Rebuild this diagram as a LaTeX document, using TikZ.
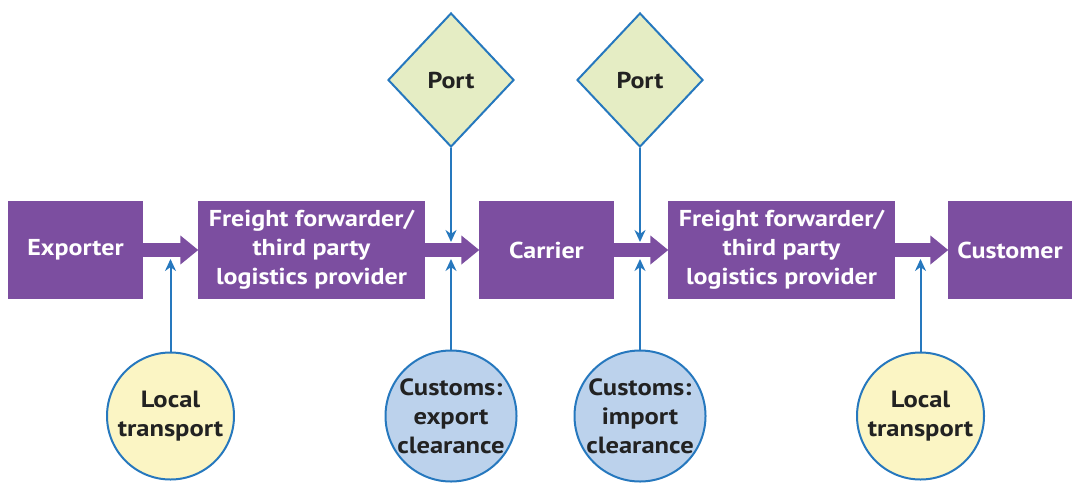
\documentclass[tikz,border=0pt]{standalone}
\usepackage{fontspec}
\setmainfont{PT Sans}
\newfontfamily\labelfont[FakeStretch=1.13]{PT Sans}
\usetikzlibrary{arrows.meta,shapes.geometric,calc}
\definecolor{boxpurple}{RGB}{124,78,160}
\definecolor{linkblue}{RGB}{38,120,190}
\definecolor{portfill}{RGB}{229,237,196}
\definecolor{localfill}{RGB}{251,245,196}
\definecolor{customsfill}{RGB}{188,210,236}
\definecolor{darktext}{RGB}{34,34,34}
\tikzset{
  stage/.style={rectangle, fill=boxpurple, text=white, font=\labelfont\bfseries\fontsize{23}{29}\selectfont,
    align=center, inner sep=0pt, minimum height=98pt},
  flow/.style={draw=boxpurple, line width=14pt, -{Triangle[width=28pt,length=18pt]}, shorten >=-0.5pt},
  portnode/.style={diamond, draw=linkblue, line width=2pt, fill=portfill, inner sep=0pt,
    minimum width=126pt, minimum height=134pt, text=darktext, font=\labelfont\bfseries\fontsize{23}{29}\selectfont},
  service/.style={circle, draw=linkblue, line width=2pt, inner sep=0pt, minimum size=127pt,
    text=darktext, align=center, font=\labelfont\bfseries\fontsize{23.5}{29}\selectfont},
  link/.style={draw=linkblue, line width=2pt, -{Stealth[length=12pt,width=11pt]}}
}
\begin{document}
\begin{tikzpicture}[x=1pt,y=-1pt]
\useasboundingbox (0,0) rectangle (1076,485);

% main chain
\node[stage, minimum width=135pt] (exp) at (75.5,250) {Exporter};
\node[stage, minimum width=227pt] (ffa) at (311.5,250) {Freight forwarder/\\third party\\logistics provider};
\node[stage, minimum width=135pt] (car) at (546.5,250) {Carrier};
\node[stage, minimum width=227pt] (ffb) at (781.5,250) {Freight forwarder/\\third party\\logistics provider};
\node[stage, minimum width=124pt] (cus) at (1010,250) {Customer};

\draw[flow] (exp.east) -- (ffa.west);
\draw[flow] (ffa.east) -- (car.west);
\draw[flow] (car.east) -- (ffb.west);
\draw[flow] (ffb.east) -- (cus.west);

% points just above and below the thick arrows
\coordinate (upa) at (451,242);
\coordinate (upb) at (640,242);
\coordinate (dnl) at (170.5,259);
\coordinate (dna) at (451,259);
\coordinate (dnb) at (640,259);
\coordinate (dnr) at (920.5,259);

% ports
\node[portnode] (porta) at (451,80) {Port};
\node[portnode] (portb) at (640,80) {Port};

% supporting services
\node[service, fill=localfill] (lta) at (170.5,416) {Local\\transport};
\node[service, fill=customsfill] (cxa) at (451,416) {Customs:\\export\\clearance};
\node[service, fill=customsfill] (cxb) at (640,416) {Customs:\\import\\clearance};
\node[service, fill=localfill] (ltb) at (920.5,416) {Local\\transport};

\draw[link] (porta.south) -- (upa);
\draw[link] (portb.south) -- (upb);
\draw[link] (lta.north) -- (dnl);
\draw[link] (cxa.north) -- (dna);
\draw[link] (cxb.north) -- (dnb);
\draw[link] (ltb.north) -- (dnr);
\end{tikzpicture}
\end{document}
